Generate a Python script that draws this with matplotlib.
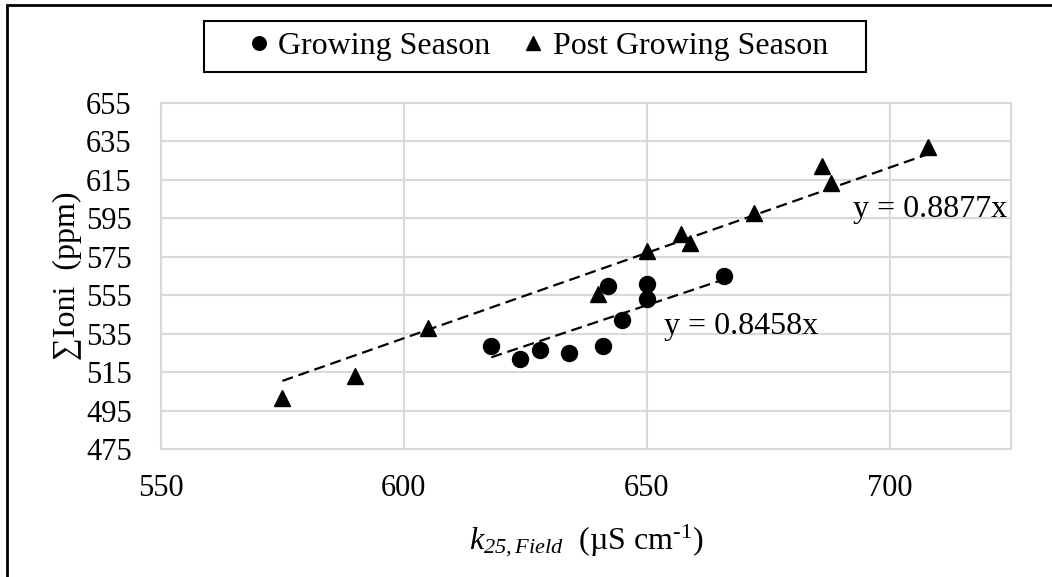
import numpy as np
import matplotlib
matplotlib.use('Agg')
import matplotlib.pyplot as plt
from matplotlib.patches import Rectangle

plt.rcParams['font.family'] = ['Liberation Serif', 'DejaVu Serif']
plt.rcParams['mathtext.fontset'] = 'custom'
plt.rcParams['mathtext.rm'] = 'Liberation Serif'
plt.rcParams['mathtext.it'] = 'Liberation Serif:italic'
# italic digits in the subscript go through \mathsf
plt.rcParams['mathtext.sf'] = 'Liberation Serif:italic'

# Growing season samples
grow_x = [618, 624, 628, 634, 641, 645, 642, 650, 650, 666]
grow_y = [528.8, 521.7, 526.5, 524.8, 528.8, 542.1, 559.8, 560.9, 553.2, 565.2]

# Post growing season samples
post_x = [575, 590, 605, 640, 650, 657, 659, 672, 686, 688, 708]
post_y = [501.7, 513.0, 538.1, 555.7, 578.2, 587.0, 582.4, 598.0, 622.3, 613.6, 632.1]

# Trendline slopes (forced through origin)
grow_slope = 0.8458
post_slope = 0.8877

x_ticks = [550, 600, 650, 700]
y_ticks = list(range(475, 656, 20))

FS = 23
TFS = 22
GRID = '#d9d9d9'

W, H = 1052, 577
fig = plt.figure(figsize=(W / 100, H / 100), dpi=100)
ax = fig.add_axes([161 / W, 1 - 449 / H, 850 / W, 346 / H])

ax.plot(grow_x, grow_y, 'o', color='black', markersize=11.5, label='Growing Season', zorder=3)
ax.plot(post_x, post_y, '^', color='black', markersize=11.5, label='Post Growing Season', zorder=3)

# Trendlines over the range of each series
gx = np.array([min(grow_x), max(grow_x)])
px = np.array([min(post_x), max(post_x)])
ax.plot(gx, grow_slope * gx, color='black', lw=1.6, linestyle=(0, (5, 2.6)), zorder=2)
ax.plot(px, post_slope * px, color='black', lw=1.6, linestyle=(0, (5, 2.6)), zorder=2)

ax.text(692.5, 599.4, 'y = %.4fx' % post_slope, fontsize=FS, va='center', ha='left', zorder=4)
ax.text(653.5, 538.6, 'y = %.4fx' % grow_slope, fontsize=FS, va='center', ha='left', zorder=4)

ax.set_xlim(550, 725)
ax.set_ylim(475, 655)
ax.set_xticks(x_ticks)
ax.set_yticks(y_ticks)
ax.tick_params(axis='both', length=0, labelsize=TFS)
ax.tick_params(axis='x', pad=18)
ax.tick_params(axis='y', pad=21)
ax.grid(True, color=GRID, linewidth=1.5, zorder=0)
ax.set_axisbelow(True)
for s in ax.spines.values():
    s.set_color(GRID)
    s.set_linewidth(1.5)

ax.set_xlabel(r'$\mathit{k}_{\mathsf{25,Field}}$  (µS cm$^{\mathrm{\text{-1}}}$)', fontsize=FS, labelpad=14)
ax.set_ylabel('∑Ioni  (ppm)', fontsize=FS, labelpad=3)

# Legend without its own frame; the box is drawn separately
leg = fig.legend(loc='center', bbox_to_anchor=(537 / W, 1 - 46.5 / H), ncol=2,
                 fontsize=FS, frameon=False, handletextpad=0.2, columnspacing=0.95,
                 handlelength=0.8, borderpad=0.0, markerscale=0.85)
fig.patches.append(Rectangle((204 / W, 1 - 72 / H), 662 / W, 51 / H, transform=fig.transFigure,
                             fill=False, edgecolor='black', linewidth=1.5))

# Outer border (top and left edges visible)
fig.patches.append(Rectangle((7 / W, -0.2), 1.5, 1.2 - 5 / H, transform=fig.transFigure,
                             fill=False, edgecolor='black', linewidth=2, clip_on=False))

fig.savefig('out.png', dpi=100)
